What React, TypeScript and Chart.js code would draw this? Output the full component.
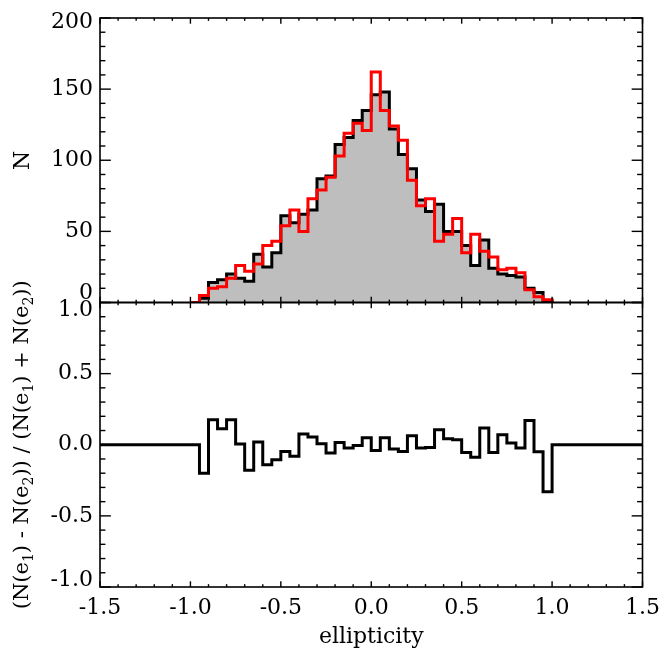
import React, { useEffect, useRef } from "react";
import { Chart, registerables } from "chart.js";

Chart.register(...registerables);

// bin edges of the ellipticity histogram (41 edges, 40 bins)
const binEdges = [
  -1.0, -0.95, -0.9, -0.85, -0.8, -0.75, -0.7, -0.65, -0.6, -0.55,
  -0.5, -0.45, -0.4, -0.35, -0.3, -0.25, -0.2, -0.15, -0.1, -0.05,
  0.0, 0.05, 0.1, 0.15, 0.2, 0.25, 0.3, 0.35, 0.4, 0.45,
  0.5, 0.55, 0.6, 0.65, 0.7, 0.75, 0.8, 0.85, 0.9, 0.95, 1.0,
];

// N(e1) – black histogram with grey fill
const countsE1 = [
  0, 3, 14, 16, 20, 17, 15, 34, 25, 35,
  61, 56, 62, 65, 87, 89, 111, 116, 128, 135,
  146, 148, 122, 104, 94, 72, 64, 69, 50, 50,
  40, 26, 44, 24, 20, 19, 18, 10, 7, 1,
];

// N(e2) – red histogram
const countsE2 = [
  0, 5, 10, 11, 17, 26, 22, 27, 40, 43,
  54, 65, 50, 73, 79, 88, 103, 119, 126, 121,
  162, 135, 124, 114, 86, 68, 73, 43, 48, 59,
  35, 48, 36, 32, 23, 24, 21, 9, 4, 2,
];

// (N(e1) - N(e2)) / (N(e1) + N(e2)) per bin
const ratio = [
  0, -0.2, 0.175, 0.112, 0.175, 0.005, -0.18, 0.02, -0.14, -0.105,
  -0.047, -0.08, 0.075, 0.054, 0.007, -0.058, 0.016, -0.023, -0.005, 0.05,
  -0.04, 0.05, -0.03, -0.047, 0.063, -0.023, -0.02, 0.105, 0.042, 0.035,
  -0.054, -0.087, 0.117, -0.054, 0.07, 0.012, -0.023, 0.17, -0.05, -0.33,
];

const xRange = [-1.5, 1.5];
const nRange = [0, 200];
const ratioRange = [-1, 1];
const nTickLabels = ["0", "50", "100", "150", "200"];
const ratioTickLabels = ["-1.0", "-0.5", "0.0", "0.5", "1.0"];

const FONT = "'DejaVu Serif', 'Liberation Serif', serif";
const FS = 22;

function histPoints(vals: number[]) {
  const pts = vals.map((v, i) => ({ x: binEdges[i], y: v }));
  pts.push({ x: binEdges[binEdges.length - 1], y: 0 });
  return pts;
}

function ratioPoints() {
  const pts = [{ x: xRange[0], y: 0 }];
  ratio.forEach((v, i) => pts.push({ x: binEdges[i], y: v }));
  pts.push({ x: binEdges[binEdges.length - 1], y: 0 });
  pts.push({ x: xRange[1], y: 0 });
  return pts;
}

const framePlugin = {
  id: "frame",
  afterDraw(chart: any) {
    const ctx = chart.ctx as CanvasRenderingContext2D;
    const x = chart.scales.x;
    const yT = chart.scales.yTop;
    const yB = chart.scales.yBot;
    const L = chart.chartArea.left;
    const R = chart.chartArea.right;
    ctx.save();
    ctx.strokeStyle = "#000";
    ctx.lineWidth = 1.6;
    ctx.lineCap = "butt";
    // panel boxes
    ctx.strokeRect(L, yT.top, R - L, yT.bottom - yT.top);
    ctx.strokeRect(L, yB.top, R - L, yB.bottom - yB.top);

    ctx.lineWidth = 1.4;
    const line = (x1: number, y1: number, x2: number, y2: number) => {
      ctx.beginPath();
      ctx.moveTo(x1, y1);
      ctx.lineTo(x2, y2);
      ctx.stroke();
    };
    const panels = [
      { s: yT, major: 50, minor: 10, lo: nRange[0], hi: nRange[1], labels: nTickLabels, offLo: -9, offHi: 4 },
      { s: yB, major: 0.5, minor: 0.1, lo: ratioRange[0], hi: ratioRange[1], labels: ratioTickLabels, offLo: -7, offHi: 8 },
    ];
    ctx.fillStyle = "#000";
    for (const p of panels) {
      const h = p.s.bottom - p.s.top;
      const xMaj = 0.02 * h;
      const xMin = 0.01 * h;
      // x ticks on top and bottom edge of panel
      const nx = Math.round((xRange[1] - xRange[0]) / 0.1);
      for (let i = 0; i <= nx; i++) {
        const v = xRange[0] + i * 0.1;
        const isMaj = i % 5 === 0;
        const len = isMaj ? xMaj : xMin;
        const px = x.getPixelForValue(v);
        line(px, p.s.bottom, px, p.s.bottom - len);
        line(px, p.s.top, px, p.s.top + len);
      }
      // y ticks on left and right
      const w = R - L;
      const yMaj = 0.02 * w;
      const yMin = 0.01 * w;
      const ny = Math.round((p.hi - p.lo) / p.minor);
      const per = Math.round(p.major / p.minor);
      for (let i = 0; i <= ny; i++) {
        const v = p.lo + i * p.minor;
        const len = i % per === 0 ? yMaj : yMin;
        const py = p.s.getPixelForValue(v);
        line(L, py, L + len, py);
        line(R, py, R - len, py);
      }
      // y tick labels
      ctx.font = `${FS}px ${FONT}`;
      ctx.textAlign = "right";
      ctx.textBaseline = "middle";
      p.labels.forEach((lab, i) => {
        const v = p.lo + i * p.major;
        let py = p.s.getPixelForValue(v);
        if (i === 0) py += p.offLo;
        if (i === p.labels.length - 1) py += p.offHi;
        ctx.fillText(lab, L - 7, py);
      });
    }

    // axis titles
    ctx.fillStyle = "#000";
    ctx.font = `${FS}px ${FONT}`;
    ctx.textAlign = "center";
    ctx.textBaseline = "middle";
    ctx.fillText("ellipticity", (L + R) / 2, 637);

    ctx.save();
    ctx.translate(23, (yT.top + yT.bottom) / 2);
    ctx.rotate(-Math.PI / 2);
    ctx.fillText("N", 0, 0);
    ctx.restore();

    // bottom y title with subscripts
    const parts: [string, boolean][] = [
      ["(N(e", false], ["1", true], [") - N(e", false], ["2", true],
      [")) / (N(e", false], ["1", true], [") + N(e", false], ["2", true], ["))", false],
    ];
    const mainFont = `21px ${FONT}`;
    const subFont = `14px ${FONT}`;
    let total = 0;
    const widths = parts.map(([t, sub]) => {
      ctx.font = sub ? subFont : mainFont;
      const wdt = ctx.measureText(t).width;
      total += wdt;
      return wdt;
    });
    ctx.save();
    ctx.translate(23, (yB.top + yB.bottom) / 2);
    ctx.rotate(-Math.PI / 2);
    ctx.textAlign = "left";
    let cx = -total / 2;
    parts.forEach(([t, sub], i) => {
      ctx.font = sub ? subFont : mainFont;
      ctx.fillText(t, cx, sub ? 6 : 0);
      cx += widths[i];
    });
    ctx.restore();
    ctx.restore();
  },
};

export default function App() {
  const ref = useRef<HTMLCanvasElement>(null);
  useEffect(() => {
    const tickFont = { family: FONT, size: FS };
    const chart = new Chart(ref.current as HTMLCanvasElement, {
      type: "line",
      data: {
        datasets: [
          {
            label: "N(e2)",
            data: histPoints(countsE2),
            yAxisID: "yTop",
            borderColor: "rgb(255,0,0)",
            borderWidth: 3,
            stepped: true,
            fill: false,
            pointRadius: 0,
            order: 0,
            borderJoinStyle: "miter",
          },
          {
            label: "N(e1)",
            data: histPoints(countsE1),
            yAxisID: "yTop",
            borderColor: "#000",
            borderWidth: 3,
            stepped: true,
            fill: "origin",
            backgroundColor: "rgb(190,190,190)",
            pointRadius: 0,
            order: 1,
            borderJoinStyle: "miter",
          },
          {
            label: "ratio",
            data: ratioPoints(),
            yAxisID: "yBot",
            borderColor: "#000",
            borderWidth: 3,
            stepped: true,
            fill: false,
            pointRadius: 0,
            order: 2,
            borderJoinStyle: "miter",
          },
        ],
      } as any,
      options: {
        animation: false,
        responsive: false,
        maintainAspectRatio: false,
        layout: { padding: { top: 18, right: 18, bottom: 0, left: 0 } },
        plugins: { legend: { display: false }, tooltip: { enabled: false } },
        scales: {
          x: {
            type: "linear",
            min: xRange[0],
            max: xRange[1],
            grid: { display: false, drawTicks: false },
            border: { display: false },
            ticks: {
              stepSize: 0.5,
              font: tickFont,
              color: "#000",
              padding: 8,
              maxRotation: 0,
              autoSkip: false,
              callback: (v: any) => Number(v).toFixed(1),
            },
            afterFit: (s: any) => {
              s.height = 81;
            },
          },
          yTop: {
            type: "linear",
            position: "left",
            stack: "panels",
            stackWeight: 1,
            weight: 1,
            min: nRange[0],
            max: nRange[1],
            grid: { display: false, drawTicks: false },
            border: { display: false },
            ticks: { display: false, stepSize: 50 },
            afterFit: (s: any) => {
              s.width = 100;
            },
          },
          yBot: {
            type: "linear",
            position: "left",
            stack: "panels",
            stackWeight: 1,
            weight: 0,
            min: ratioRange[0],
            max: ratioRange[1],
            grid: { display: false, drawTicks: false },
            border: { display: false },
            ticks: { display: false, stepSize: 0.5 },
            afterFit: (s: any) => {
              s.width = 100;
            },
          },
        },
      } as any,
      plugins: [framePlugin],
    });
    return () => chart.destroy();
  }, []);
  return (
    <div
      style={{
        position: "fixed",
        left: 0,
        top: 0,
        width: 668,
        height: 668,
        background: "#fff",
      }}
    >
      <canvas
        ref={ref}
        width={668}
        height={668}
        style={{ display: "block", width: 668, height: 668 }}
      />
    </div>
  );
}
